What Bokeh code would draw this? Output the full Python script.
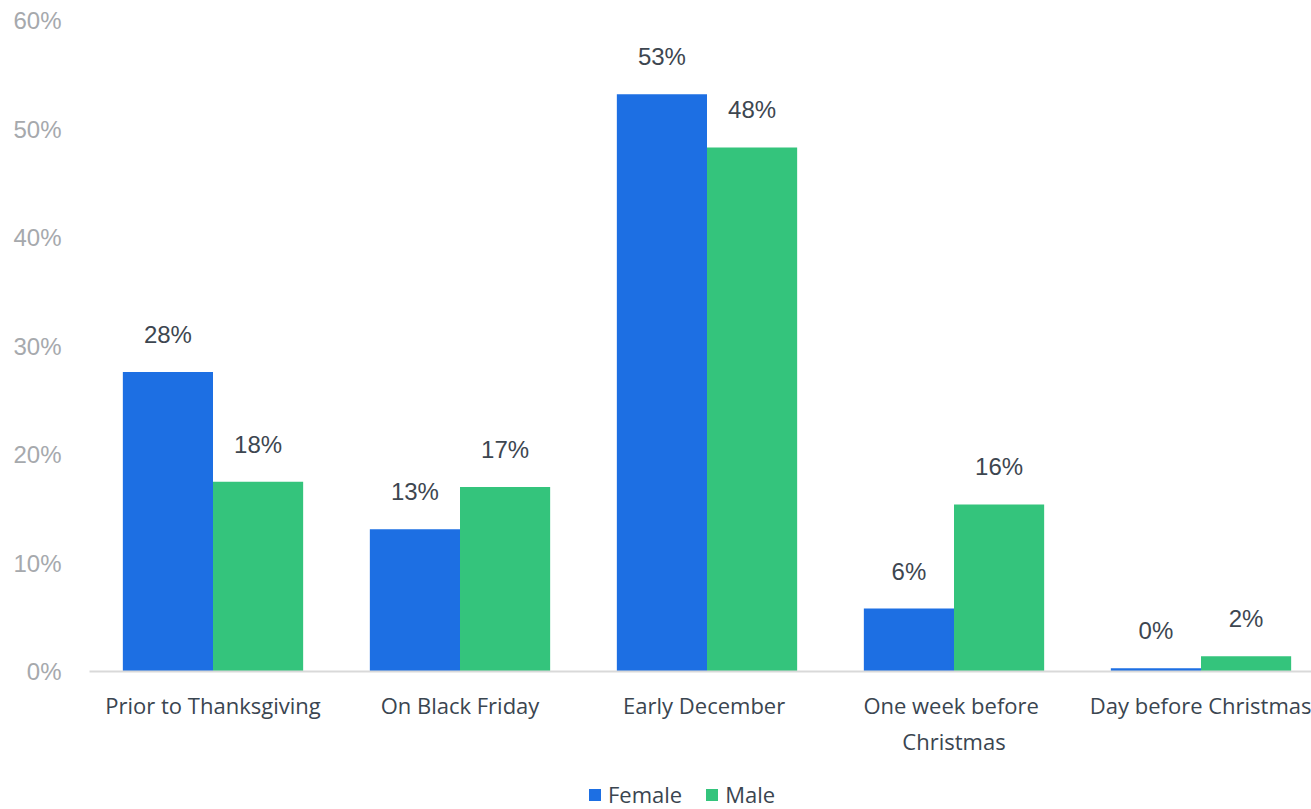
from bokeh.plotting import figure
from bokeh.models import ColumnDataSource, Legend, LegendItem, FixedTicker, Range1d
from bokeh.layouts import column
from bokeh.core.properties import value
from bokeh.embed import file_html
from bokeh.resources import INLINE

categories = ["Prior to Thanksgiving", "On Black Friday", "Early  December",
              "One week  before\nChristmas", "Day before Christmas"]
female = [27.6, 13.1, 53.2, 5.8, 0.3]
male = [17.5, 17.0, 48.3, 15.4, 1.4]
female_labels = ["28%", "13%", "53%", "6%", "0%"]
male_labels = ["18%", "17%", "48%", "16%", "2%"]
y_ticks = [0, 10, 20, 30, 40, 50, 60]

BLUE = "#1d6fe3"
GREEN = "#34c47c"
W = 1311
LEFT = 89
CAT_PX = 247.0
bw = 0.365

centers = [i + 0.5 for i in range(len(categories))]
src = ColumnDataSource(dict(
    xf=[c - bw / 2 for c in centers], xm=[c + bw / 2 for c in centers],
    female=female, male=male, fl=female_labels, ml=male_labels))

p = figure(x_range=Range1d(0, (W - LEFT) / CAT_PX), y_range=Range1d(0, 60),
           width=W, height=771, output_backend="svg", toolbar_location=None,
           min_border_left=LEFT, min_border_right=0, min_border_top=20, min_border_bottom=100)
p.outline_line_color = None
p.xgrid.grid_line_color = None
p.ygrid.grid_line_color = None

p.vbar(x="xf", top="female", width=bw, source=src, fill_color=BLUE, line_color=None)
p.vbar(x="xm", top="male", width=bw, source=src, fill_color=GREEN, line_color=None)

lab_kw = dict(source=src, text_align="center", text_baseline="bottom", y_offset=-24,
              text_font=value("Liberation Sans"), text_font_size="24px", text_color="#3d4650")
p.text(x="xf", y="female", text="fl", **lab_kw)
p.text(x="xm", y="male", text="ml", **lab_kw)

# y axis
p.yaxis.ticker = FixedTicker(ticks=y_ticks)
p.yaxis.major_label_overrides = {t: f"{t}%" for t in y_ticks}
p.yaxis.axis_line_color = None
p.yaxis.major_tick_line_color = None
p.yaxis.minor_tick_line_color = None
p.yaxis.major_label_text_font = "Liberation Sans"
p.yaxis.major_label_text_font_size = "24px"
p.yaxis.major_label_text_color = "#a6a9ad"
p.yaxis.major_label_standoff = 22

# x axis
p.xaxis.ticker = FixedTicker(ticks=centers)
p.xaxis.major_label_overrides = {c: lab for c, lab in zip(centers, categories)}
p.xaxis.axis_line_color = "#d9d9d9"
p.xaxis.axis_line_width = 2
p.xaxis.major_tick_line_color = None
p.xaxis.minor_tick_line_color = None
p.xaxis.major_label_text_font = "Open Sans"
p.xaxis.major_label_text_font_size = "22px"
p.xaxis.major_label_text_color = "#3a4550"
p.xaxis.major_label_standoff = 12

# legend strip below the chart (its glyph renderers lie outside its visible range)
lg = figure(width=W, height=38, output_backend="svg", toolbar_location=None,
            min_border_left=0, min_border_right=0, min_border_top=0, min_border_bottom=0,
            x_range=Range1d(-20, -10), y_range=Range1d(0, 1))
lg.outline_line_color = None
lg.axis.visible = False
lg.grid.grid_line_color = None
df = lg.vbar(x="xf", top="female", width=bw, source=src, fill_color=BLUE, line_color=None)
dm = lg.vbar(x="xm", top="male", width=bw, source=src, fill_color=GREEN, line_color=None)
legend = Legend(items=[LegendItem(label="Female", renderers=[df]),
                       LegendItem(label="Male", renderers=[dm])],
                orientation="horizontal", location=(498, 0),
                glyph_width=15, glyph_height=15, label_text_font="Open Sans",
                label_text_font_size="22px", label_text_color="#3a4550",
                spacing=22, label_standoff=6, border_line_color=None,
                background_fill_alpha=0, padding=0, margin=0)
lg.add_layout(legend, "center")

layout = column(p, lg, spacing=0)
open("out.html", "w").write(file_html(layout, INLINE))
